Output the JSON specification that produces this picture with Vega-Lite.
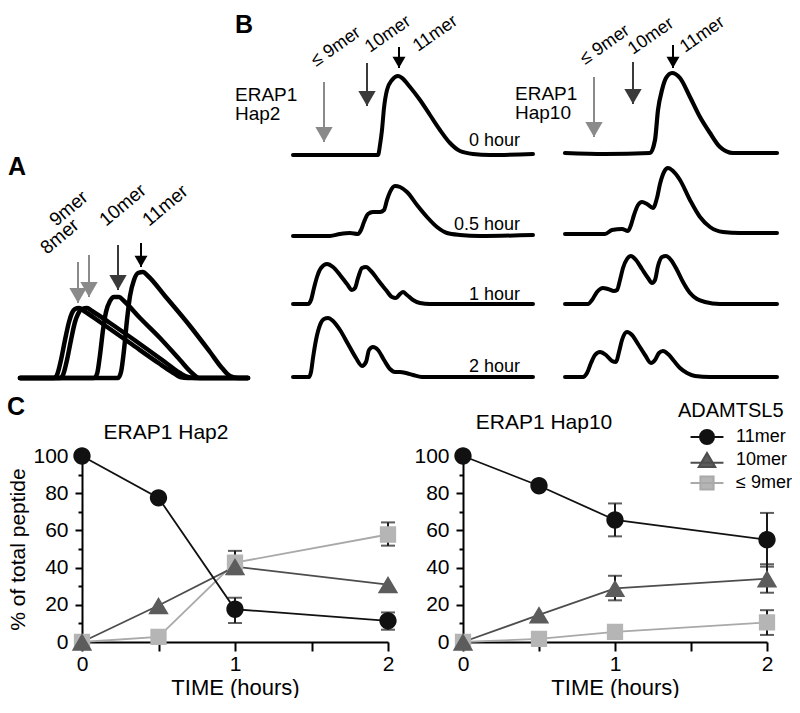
{
"$schema":"https://vega.github.io/schema/vega-lite/v6.json",
"padding":0,
"background":"white",
"columns":4,
"spacing":0,
"bounds":"flush",
"config":{
 "view":{"stroke":null},
 "font":"Liberation Sans",
 "axis":{"labelFont":"Liberation Sans","titleFont":"Liberation Sans","labelColor":"black","titleColor":"black","domainColor":"black","tickColor":"black","grid":false,"domainWidth":2,"tickWidth":2,"labelFontSize":21,"titleFontSize":21,"titleFontWeight":"normal"},
 "legend":{"titleFont":"Liberation Sans","labelFont":"Liberation Sans","titleFontSize":20,"titleFontWeight":"normal","labelFontSize":18,"titleColor":"black","labelColor":"black","symbolSize":196,"padding":0,"rowPadding":1,"titlePadding":7,"symbolOffset":20,"labelOffset":20},
 "title":{"font":"Liberation Sans","color":"black","fontWeight":"normal"}
},
"resolve":{"scale":{"color":"independent","fill":"independent","stroke":"independent","shape":"independent"}},
"concat":[
 {"width":82,"height":158,
  "data":{"values":[
   {"k":"tr","tr":"8mer","t":2.0,"s":0},{"k":"tr","tr":"8mer","t":5.4,"s":0},{"k":"tr","tr":"8mer","t":5.7,"s":3},{"k":"tr","tr":"8mer","t":6.1,"s":18},{"k":"tr","tr":"8mer","t":6.5,"s":38},{"k":"tr","tr":"8mer","t":6.9,"s":56},{"k":"tr","tr":"8mer","t":7.2,"s":65},{"k":"tr","tr":"8mer","t":7.5,"s":69},{"k":"tr","tr":"8mer","t":7.9,"s":70},{"k":"tr","tr":"8mer","t":8.4,"s":67},{"k":"tr","tr":"8mer","t":10.0,"s":56},{"k":"tr","tr":"8mer","t":13.0,"s":35},{"k":"tr","tr":"8mer","t":16.0,"s":14},{"k":"tr","tr":"8mer","t":17.2,"s":6},{"k":"tr","tr":"8mer","t":18.0,"s":1},{"k":"tr","tr":"8mer","t":18.8,"s":0},{"k":"tr","tr":"8mer","t":24.8,"s":0},
   {"k":"tr","tr":"9mer","t":2.0,"s":0},{"k":"tr","tr":"9mer","t":6.0,"s":0},{"k":"tr","tr":"9mer","t":6.3,"s":3},{"k":"tr","tr":"9mer","t":6.7,"s":18},{"k":"tr","tr":"9mer","t":7.1,"s":38},{"k":"tr","tr":"9mer","t":7.5,"s":56},{"k":"tr","tr":"9mer","t":7.8,"s":64},{"k":"tr","tr":"9mer","t":8.2,"s":69},{"k":"tr","tr":"9mer","t":8.7,"s":70},{"k":"tr","tr":"9mer","t":9.2,"s":67},{"k":"tr","tr":"9mer","t":11.0,"s":55},{"k":"tr","tr":"9mer","t":14.0,"s":34},{"k":"tr","tr":"9mer","t":16.5,"s":16},{"k":"tr","tr":"9mer","t":18.0,"s":5},{"k":"tr","tr":"9mer","t":18.8,"s":1},{"k":"tr","tr":"9mer","t":19.6,"s":0},{"k":"tr","tr":"9mer","t":24.8,"s":0},
   {"k":"tr","tr":"10mer","t":2.0,"s":0},{"k":"tr","tr":"10mer","t":9.4,"s":0},{"k":"tr","tr":"10mer","t":9.7,"s":4},{"k":"tr","tr":"10mer","t":10.0,"s":23},{"k":"tr","tr":"10mer","t":10.3,"s":48},{"k":"tr","tr":"10mer","t":10.6,"s":66},{"k":"tr","tr":"10mer","t":11.0,"s":77},{"k":"tr","tr":"10mer","t":11.4,"s":81},{"k":"tr","tr":"10mer","t":11.9,"s":81},{"k":"tr","tr":"10mer","t":12.4,"s":77},{"k":"tr","tr":"10mer","t":14.0,"s":60},{"k":"tr","tr":"10mer","t":16.0,"s":40},{"k":"tr","tr":"10mer","t":18.0,"s":18},{"k":"tr","tr":"10mer","t":19.2,"s":5},{"k":"tr","tr":"10mer","t":19.9,"s":0},{"k":"tr","tr":"10mer","t":24.8,"s":0},
   {"k":"tr","tr":"11mer","t":2.0,"s":0},{"k":"tr","tr":"11mer","t":11.8,"s":0},{"k":"tr","tr":"11mer","t":12.1,"s":6},{"k":"tr","tr":"11mer","t":12.4,"s":28},{"k":"tr","tr":"11mer","t":12.7,"s":58},{"k":"tr","tr":"11mer","t":13.0,"s":82},{"k":"tr","tr":"11mer","t":13.4,"s":98},{"k":"tr","tr":"11mer","t":13.8,"s":105},{"k":"tr","tr":"11mer","t":14.3,"s":106},{"k":"tr","tr":"11mer","t":14.8,"s":102},{"k":"tr","tr":"11mer","t":16.5,"s":82},{"k":"tr","tr":"11mer","t":19.0,"s":52},{"k":"tr","tr":"11mer","t":21.0,"s":26},{"k":"tr","tr":"11mer","t":22.2,"s":10},{"k":"tr","tr":"11mer","t":23.0,"s":2},{"k":"tr","tr":"11mer","t":23.8,"s":0},{"k":"tr","tr":"11mer","t":24.8,"s":0},
   {"k":"ar","pep":"8mer","t":7.8,"s":75,"top":116},{"k":"ar","pep":"9mer","t":8.9,"s":81,"top":123},{"k":"ar","pep":"10mer","t":11.8,"s":88,"top":133},{"k":"ar","pep":"11mer","t":14.1,"s":111,"top":135},
   {"k":"lb","lab":"8mer","t":4.7,"s":123},{"k":"lb","lab":"9mer","t":5.6,"s":151},{"k":"lb","lab":"10mer","t":10.6,"s":151},{"k":"lb","lab":"11mer","t":14.9,"s":151},
   {"k":"L","lab":"A","t":0.8,"s":203}
  ]},
  "encoding":{"x":{"field":"t","type":"quantitative","scale":{"domain":[0,8.2],"nice":false,"zero":false},"axis":null},"y":{"field":"s","type":"quantitative","scale":{"domain":[220,378],"nice":false,"zero":false},"axis":null}},
  "layer":[
   {"transform":[{"filter":"datum.k === 'tr'"}],"mark":{"type":"line","interpolate":"monotone","color":"black","strokeWidth":4.5,"strokeJoin":"round","strokeCap":"round"},"encoding":{"detail":{"field":"tr"}}},
   {"transform":[{"filter":"datum.k === 'ar'"}],"mark":{"type":"rule","strokeWidth":2},"encoding":{"y2":{"field":"top"},"color":{"field":"pep","type":"nominal","scale":{"domain":["8mer","9mer","≤ 9mer","10mer","11mer"],"range":["#8a8a8a","#8a8a8a","#8a8a8a","#3a3a3a","#000000"]},"legend":null}}},
   {"transform":[{"filter":"datum.k === 'ar' && datum.pep !== '11mer'"}],"mark":{"type":"point","shape":"triangle-down","filled":true,"opacity":1,"size":300,"yOffset":-7.5},"encoding":{"color":{"field":"pep","type":"nominal","scale":{"domain":["8mer","9mer","≤ 9mer","10mer","11mer"],"range":["#8a8a8a","#8a8a8a","#8a8a8a","#3a3a3a","#000000"]},"legend":null}}},
   {"transform":[{"filter":"datum.k === 'ar' && datum.pep === '11mer'"}],"mark":{"type":"point","shape":"triangle-down","filled":true,"opacity":1,"size":169,"yOffset":-5.6,"color":"black"}},
   {"transform":[{"filter":"datum.k === 'lb'"}],"mark":{"type":"text","angle":320,"align":"left","baseline":"alphabetic","fontSize":19,"color":"black"},"encoding":{"text":{"field":"lab"}}},
   {"transform":[{"filter":"datum.k === 'L'"}],"mark":{"type":"text","align":"left","baseline":"alphabetic","fontSize":25,"fontWeight":"bold","color":"black"},"encoding":{"text":{"field":"lab"}}}
  ]
 },
 {"width":306,"height":158,
  "data":{"values":[
   {"k":"tr","t":6.3,"s":0},{"k":"tr","t":14.5,"s":0},{"k":"tr","t":14.8,"s":0},{"k":"tr","t":15.0,"s":10},{"k":"tr","t":15.2,"s":25},{"k":"tr","t":15.4,"s":47},{"k":"tr","t":15.7,"s":65},{"k":"tr","t":16.2,"s":75},{"k":"tr","t":16.8,"s":79},{"k":"tr","t":17.2,"s":77},{"k":"tr","t":18.0,"s":68},{"k":"tr","t":19.0,"s":55},{"k":"tr","t":20.0,"s":40},{"k":"tr","t":21.0,"s":25},{"k":"tr","t":22.0,"s":12},{"k":"tr","t":23.0,"s":4},{"k":"tr","t":24.3,"s":1},{"k":"tr","t":26.0,"s":0},{"k":"tr","t":30.3,"s":1},
   {"k":"ar","pep":"≤ 9mer","t":9.4,"s":13,"top":73},{"k":"ar","pep":"10mer","t":13.7,"s":49,"top":92},{"k":"ar","pep":"11mer","t":16.9,"s":87,"top":108},
   {"k":"lb","lab":"≤ 9mer","t":8.6,"s":88},{"k":"lb","lab":"10mer","t":14.0,"s":102},{"k":"lb","lab":"11mer","t":18.8,"s":103},
   {"k":"hp","lab":"ERAP1\nHap2","t":0.5,"s":54},
   {"k":"hr","lab":"0 hour","t":29.0,"s":9},
   {"k":"L","lab":"B","t":0.5,"s":122}
  ]},
  "encoding":{"x":{"field":"t","type":"quantitative","scale":{"domain":[-14.8,15.8],"nice":false,"zero":false},"axis":null},"y":{"field":"s","type":"quantitative","scale":{"domain":[-3,155],"nice":false,"zero":false},"axis":null}},
  "layer":[
   {"transform":[{"filter":"datum.k === 'tr'"}],"mark":{"type":"line","interpolate":"monotone","color":"black","strokeWidth":4,"strokeJoin":"round","strokeCap":"round"}},
   {"transform":[{"filter":"datum.k === 'ar'"}],"mark":{"type":"rule","strokeWidth":2},"encoding":{"y2":{"field":"top"},"color":{"field":"pep","type":"nominal","scale":{"domain":["8mer","9mer","≤ 9mer","10mer","11mer"],"range":["#8a8a8a","#8a8a8a","#8a8a8a","#3a3a3a","#000000"]},"legend":null}}},
   {"transform":[{"filter":"datum.k === 'ar' && datum.pep !== '11mer'"}],"mark":{"type":"point","shape":"triangle-down","filled":true,"opacity":1,"size":300,"yOffset":-7.5},"encoding":{"color":{"field":"pep","type":"nominal","scale":{"domain":["8mer","9mer","≤ 9mer","10mer","11mer"],"range":["#8a8a8a","#8a8a8a","#8a8a8a","#3a3a3a","#000000"]},"legend":null}}},
   {"transform":[{"filter":"datum.k === 'ar' && datum.pep === '11mer'"}],"mark":{"type":"point","shape":"triangle-down","filled":true,"opacity":1,"size":169,"yOffset":-5.6,"color":"black"}},
   {"transform":[{"filter":"datum.k === 'lb'"}],"mark":{"type":"text","angle":325,"align":"left","baseline":"alphabetic","fontSize":18,"color":"black"},"encoding":{"text":{"field":"lab"}}},
   {"transform":[{"filter":"datum.k === 'hp'"}],"mark":{"type":"text","align":"left","baseline":"alphabetic","fontSize":19,"lineHeight":19,"lineBreak":"\n","color":"black"},"encoding":{"text":{"field":"lab"}}},
   {"transform":[{"filter":"datum.k === 'hr'"}],"mark":{"type":"text","align":"right","baseline":"alphabetic","fontSize":18,"color":"black"},"encoding":{"text":{"field":"lab"}}},
   {"transform":[{"filter":"datum.k === 'L'"}],"mark":{"type":"text","align":"left","baseline":"alphabetic","fontSize":25,"fontWeight":"bold","color":"black"},"encoding":{"text":{"field":"lab"}}}
  ]
 },
 {"width":1,"height":1,"data":{"values":[]},"mark":"point"},
 {"width":304,"height":158,
  "data":{"values":[
   {"k":"tr","t":2.0,"s":2},{"k":"tr","t":6.0,"s":1},{"k":"tr","t":10.5,"s":2},{"k":"tr","t":11.0,"s":15},{"k":"tr","t":11.3,"s":45},{"k":"tr","t":11.7,"s":65},{"k":"tr","t":12.1,"s":77},{"k":"tr","t":12.7,"s":82},{"k":"tr","t":13.5,"s":77},{"k":"tr","t":14.5,"s":58},{"k":"tr","t":15.5,"s":38},{"k":"tr","t":16.5,"s":22},{"k":"tr","t":17.5,"s":8},{"k":"tr","t":18.8,"s":2},{"k":"tr","t":23.2,"s":2},
   {"k":"ar","pep":"≤ 9mer","t":4.9,"s":18,"top":78},{"k":"ar","pep":"10mer","t":8.8,"s":51,"top":93},{"k":"ar","pep":"11mer","t":12.8,"s":87,"top":110},
   {"k":"lb","lab":"≤ 9mer","t":4.0,"s":90},{"k":"lb","lab":"10mer","t":8.8,"s":100},{"k":"lb","lab":"11mer","t":14.0,"s":102},
   {"k":"hp","lab":"ERAP1\nHap10","t":-3.0,"s":55}
  ]},
  "encoding":{"x":{"field":"t","type":"quantitative","scale":{"domain":[-8.2,22.2],"nice":false,"zero":false},"axis":null},"y":{"field":"s","type":"quantitative","scale":{"domain":[-3,155],"nice":false,"zero":false},"axis":null}},
  "layer":[
   {"transform":[{"filter":"datum.k === 'tr'"}],"mark":{"type":"line","interpolate":"monotone","color":"black","strokeWidth":4.2,"strokeJoin":"round","strokeCap":"round"}},
   {"transform":[{"filter":"datum.k === 'ar'"}],"mark":{"type":"rule","strokeWidth":2},"encoding":{"y2":{"field":"top"},"color":{"field":"pep","type":"nominal","scale":{"domain":["8mer","9mer","≤ 9mer","10mer","11mer"],"range":["#8a8a8a","#8a8a8a","#8a8a8a","#3a3a3a","#000000"]},"legend":null}}},
   {"transform":[{"filter":"datum.k === 'ar' && datum.pep !== '11mer'"}],"mark":{"type":"point","shape":"triangle-down","filled":true,"opacity":1,"size":300,"yOffset":-7.5},"encoding":{"color":{"field":"pep","type":"nominal","scale":{"domain":["8mer","9mer","≤ 9mer","10mer","11mer"],"range":["#8a8a8a","#8a8a8a","#8a8a8a","#3a3a3a","#000000"]},"legend":null}}},
   {"transform":[{"filter":"datum.k === 'ar' && datum.pep === '11mer'"}],"mark":{"type":"point","shape":"triangle-down","filled":true,"opacity":1,"size":169,"yOffset":-5.6,"color":"black"}},
   {"transform":[{"filter":"datum.k === 'lb'"}],"mark":{"type":"text","angle":325,"align":"left","baseline":"alphabetic","fontSize":18,"color":"black"},"encoding":{"text":{"field":"lab"}}},
   {"transform":[{"filter":"datum.k === 'hp'"}],"mark":{"type":"text","align":"left","baseline":"alphabetic","fontSize":19,"lineHeight":19,"lineBreak":"\n","color":"black"},"encoding":{"text":{"field":"lab"}}}
  ]
 },
 {"width":1,"height":1,"data":{"values":[]},"mark":"point"},
 {"width":306,"height":82,
  "data":{"values":[
   {"k":"tr","t":6.3,"s":-1},{"k":"tr","t":10.0,"s":-1},{"k":"tr","t":11.0,"s":1},{"k":"tr","t":12.0,"s":2},{"k":"tr","t":12.8,"s":1},{"k":"tr","t":13.1,"s":5},{"k":"tr","t":13.4,"s":13},{"k":"tr","t":13.8,"s":21},{"k":"tr","t":14.3,"s":23},{"k":"tr","t":15.0,"s":23},{"k":"tr","t":15.4,"s":25},{"k":"tr","t":15.7,"s":35},{"k":"tr","t":16.0,"s":43},{"k":"tr","t":16.5,"s":49},{"k":"tr","t":17.0,"s":48},{"k":"tr","t":17.7,"s":43},{"k":"tr","t":18.7,"s":30},{"k":"tr","t":19.7,"s":18},{"k":"tr","t":20.7,"s":8},{"k":"tr","t":21.7,"s":2},{"k":"tr","t":23.0,"s":0},{"k":"tr","t":25.0,"s":-1},{"k":"tr","t":30.3,"s":0},
   {"k":"hr","lab":"0.5 hour","t":29.0,"s":5}
  ]},
  "encoding":{"x":{"field":"t","type":"quantitative","scale":{"domain":[-14.8,15.8],"nice":false,"zero":false},"axis":null},"y":{"field":"s","type":"quantitative","scale":{"domain":[-5,77],"nice":false,"zero":false},"axis":null}},
  "layer":[
   {"transform":[{"filter":"datum.k === 'tr'"}],"mark":{"type":"line","interpolate":"monotone","color":"black","strokeWidth":4,"strokeJoin":"round","strokeCap":"round"}},
   {"transform":[{"filter":"datum.k === 'hr'"}],"mark":{"type":"text","align":"right","baseline":"alphabetic","fontSize":18,"color":"black"},"encoding":{"text":{"field":"lab"}}}
  ]
 },
 {"width":1,"height":1,"data":{"values":[]},"mark":"point"},
 {"width":304,"height":82,
  "data":{"values":[
   {"t":2.0,"s":1},{"t":6.0,"s":1},{"t":6.7,"s":5},{"t":7.7,"s":6},{"t":8.3,"s":4},{"t":8.6,"s":10},{"t":8.9,"s":20},{"t":9.3,"s":30},{"t":9.7,"s":33},{"t":10.2,"s":31},{"t":10.8,"s":27},{"t":11.2,"s":37},{"t":11.5,"s":51},{"t":11.9,"s":63},{"t":12.3,"s":67},{"t":12.8,"s":64},{"t":13.5,"s":55},{"t":14.5,"s":35},{"t":15.5,"s":18},{"t":16.5,"s":8},{"t":17.8,"s":3},{"t":19.5,"s":2},{"t":23.2,"s":2}
  ]},
  "mark":{"type":"line","interpolate":"monotone","color":"black","strokeWidth":4,"strokeJoin":"round","strokeCap":"round"},
  "encoding":{"x":{"field":"t","type":"quantitative","scale":{"domain":[-8.2,22.2],"nice":false,"zero":false},"axis":null},"y":{"field":"s","type":"quantitative","scale":{"domain":[-5,77],"nice":false,"zero":false},"axis":null}}
 },
 {"width":1,"height":1,"data":{"values":[]},"mark":"point"},
 {"width":306,"height":68,
  "data":{"values":[
   {"k":"tr","t":6.3,"s":0},{"k":"tr","t":7.8,"s":0},{"k":"tr","t":8.1,"s":4},{"k":"tr","t":8.4,"s":16},{"k":"tr","t":8.7,"s":27},{"k":"tr","t":9.1,"s":36},{"k":"tr","t":9.7,"s":40},{"k":"tr","t":10.3,"s":37},{"k":"tr","t":11.0,"s":29},{"k":"tr","t":11.7,"s":20},{"k":"tr","t":12.2,"s":14},{"k":"tr","t":12.5,"s":16},{"k":"tr","t":12.8,"s":26},{"k":"tr","t":13.2,"s":36},{"k":"tr","t":13.6,"s":37},{"k":"tr","t":14.1,"s":33},{"k":"tr","t":14.8,"s":24},{"k":"tr","t":15.6,"s":14},{"k":"tr","t":16.2,"s":7},{"k":"tr","t":16.6,"s":6},{"k":"tr","t":17.0,"s":10},{"k":"tr","t":17.3,"s":12},{"k":"tr","t":17.7,"s":9},{"k":"tr","t":18.3,"s":4},{"k":"tr","t":19.0,"s":1},{"k":"tr","t":20.0,"s":0},{"k":"tr","t":30.3,"s":0},
   {"k":"hr","lab":"1 hour","t":29.0,"s":4}
  ]},
  "encoding":{"x":{"field":"t","type":"quantitative","scale":{"domain":[-14.8,15.8],"nice":false,"zero":false},"axis":null},"y":{"field":"s","type":"quantitative","scale":{"domain":[-4,64],"nice":false,"zero":false},"axis":null}},
  "layer":[
   {"transform":[{"filter":"datum.k === 'tr'"}],"mark":{"type":"line","interpolate":"monotone","color":"black","strokeWidth":4,"strokeJoin":"round","strokeCap":"round"}},
   {"transform":[{"filter":"datum.k === 'hr'"}],"mark":{"type":"text","align":"right","baseline":"alphabetic","fontSize":18,"color":"black"},"encoding":{"text":{"field":"lab"}}}
  ]
 },
 {"width":1,"height":1,"data":{"values":[]},"mark":"point"},
 {"width":304,"height":68,
  "data":{"values":[
   {"t":2.0,"s":0},{"t":4.3,"s":0},{"t":4.7,"s":4},{"t":5.2,"s":12},{"t":5.8,"s":16},{"t":6.3,"s":15},{"t":6.9,"s":13},{"t":7.2,"s":14},{"t":7.5,"s":24},{"t":7.8,"s":36},{"t":8.2,"s":45},{"t":8.6,"s":48},{"t":9.1,"s":44},{"t":9.7,"s":35},{"t":10.3,"s":26},{"t":10.7,"s":21},{"t":11.0,"s":24},{"t":11.3,"s":38},{"t":11.7,"s":47},{"t":12.1,"s":48},{"t":12.6,"s":44},{"t":13.2,"s":34},{"t":13.8,"s":22},{"t":14.5,"s":11},{"t":15.2,"s":5},{"t":16.0,"s":2},{"t":17.5,"s":0},{"t":23.2,"s":0}
  ]},
  "mark":{"type":"line","interpolate":"monotone","color":"black","strokeWidth":4,"strokeJoin":"round","strokeCap":"round"},
  "encoding":{"x":{"field":"t","type":"quantitative","scale":{"domain":[-8.2,22.2],"nice":false,"zero":false},"axis":null},"y":{"field":"s","type":"quantitative","scale":{"domain":[-4,64],"nice":false,"zero":false},"axis":null}}
 },
 {"width":1,"height":1,"data":{"values":[]},"mark":"point"},
 {"width":306,"height":73,
  "data":{"values":[
   {"k":"tr","t":6.3,"s":0},{"k":"tr","t":7.9,"s":0},{"k":"tr","t":8.1,"s":5},{"k":"tr","t":8.3,"s":19},{"k":"tr","t":8.6,"s":37},{"k":"tr","t":9.0,"s":52},{"k":"tr","t":9.4,"s":58},{"k":"tr","t":9.8,"s":59},{"k":"tr","t":10.3,"s":56},{"k":"tr","t":11.0,"s":47},{"k":"tr","t":11.8,"s":33},{"k":"tr","t":12.6,"s":19},{"k":"tr","t":13.2,"s":11},{"k":"tr","t":13.6,"s":15},{"k":"tr","t":13.9,"s":27},{"k":"tr","t":14.3,"s":30},{"k":"tr","t":14.8,"s":27},{"k":"tr","t":15.4,"s":17},{"k":"tr","t":16.0,"s":8},{"k":"tr","t":16.5,"s":5},{"k":"tr","t":17.0,"s":5},{"k":"tr","t":17.6,"s":4},{"k":"tr","t":18.3,"s":2},{"k":"tr","t":19.2,"s":0},{"k":"tr","t":30.3,"s":0},
   {"k":"hr","lab":"2 hour","t":29.0,"s":5}
  ]},
  "encoding":{"x":{"field":"t","type":"quantitative","scale":{"domain":[-14.8,15.8],"nice":false,"zero":false},"axis":null},"y":{"field":"s","type":"quantitative","scale":{"domain":[-4,69],"nice":false,"zero":false},"axis":null}},
  "layer":[
   {"transform":[{"filter":"datum.k === 'tr'"}],"mark":{"type":"line","interpolate":"monotone","color":"black","strokeWidth":4,"strokeJoin":"round","strokeCap":"round"}},
   {"transform":[{"filter":"datum.k === 'hr'"}],"mark":{"type":"text","align":"right","baseline":"alphabetic","fontSize":18,"color":"black"},"encoding":{"text":{"field":"lab"}}}
  ]
 },
 {"width":1,"height":1,"data":{"values":[]},"mark":"point"},
 {"width":304,"height":73,
  "data":{"values":[
   {"t":2.0,"s":0},{"t":3.8,"s":0},{"t":4.2,"s":4},{"t":4.6,"s":14},{"t":5.0,"s":22},{"t":5.5,"s":25},{"t":6.1,"s":22},{"t":6.7,"s":16},{"t":7.1,"s":15},{"t":7.4,"s":25},{"t":7.7,"s":37},{"t":8.2,"s":45},{"t":8.7,"s":42},{"t":9.3,"s":33},{"t":10.0,"s":22},{"t":10.6,"s":14},{"t":11.0,"s":17},{"t":11.4,"s":24},{"t":11.8,"s":26},{"t":12.3,"s":23},{"t":12.9,"s":16},{"t":13.5,"s":9},{"t":14.2,"s":4},{"t":15.0,"s":1},{"t":16.5,"s":0},{"t":23.2,"s":0}
  ]},
  "mark":{"type":"line","interpolate":"monotone","color":"black","strokeWidth":4,"strokeJoin":"round","strokeCap":"round"},
  "encoding":{"x":{"field":"t","type":"quantitative","scale":{"domain":[-8.2,22.2],"nice":false,"zero":false},"axis":null},"y":{"field":"s","type":"quantitative","scale":{"domain":[-4,69],"nice":false,"zero":false},"axis":null}}
 },
 {"width":1,"height":75,"data":{"values":[]},"mark":"point"},
 {"width":1,"height":1,"data":{"values":[]},"mark":"point"},
 {"width":1,"height":1,"data":{"values":[]},"mark":"point"},
 {"width":1,"height":1,"data":{"values":[]},"mark":"point"},
 {"width":82,"height":186,"title":{"text":"C","anchor":"start","frame":"group","fontSize":25,"fontWeight":"bold","offset":36,"dx":7},"data":{"values":[]},"mark":"point"},
 {"width":306,"height":186,
  "title":{"text":"ERAP1 Hap2","anchor":"middle","frame":"group","dx":-69,"offset":2,"fontSize":21,"fontWeight":"normal"},
  "data":{"values":[
   {"series":"≤ 9mer","time":0,"v":0},{"series":"≤ 9mer","time":0.5,"v":2.7},{"series":"≤ 9mer","time":1,"v":42.7,"lo":36.5,"hi":49},{"series":"≤ 9mer","time":2,"v":57.8,"lo":51.8,"hi":64.3},
   {"series":"10mer","time":0,"v":0},{"series":"10mer","time":0.5,"v":19.6},{"series":"10mer","time":1,"v":40.5},{"series":"10mer","time":2,"v":30.8},
   {"series":"11mer","time":0,"v":100},{"series":"11mer","time":0.5,"v":77.5},{"series":"11mer","time":1,"v":17.6,"lo":10.2,"hi":23.8},{"series":"11mer","time":2,"v":11.4,"lo":6.6,"hi":15.9}
  ]},
  "encoding":{"x":{"field":"time","type":"quantitative","title":"TIME (hours)","scale":{"domain":[0,2],"nice":false,"zero":false},"axis":{"values":[0,0.5,1,1.5,2],"labelExpr":"datum.value % 1 === 0 ? format(datum.value, 'd') : ''","tickSize":9,"labelPadding":2,"titlePadding":3,"titleFontSize":22,"labelFlush":false,"labelOverlap":false}}},
  "layer":[
   {"transform":[{"filter":"isValid(datum.lo)"}],"mark":{"type":"errorbar","color":"#1a1a1a","ticks":{"size":14,"thickness":2},"rule":{"strokeWidth":2}},
    "encoding":{"y":{"field":"lo","type":"quantitative","title":"% of total peptide","scale":{"domain":[0,100],"nice":false,"zero":false},"axis":{"values":[0,10,20,30,40,50,60,70,80,90,100],"labelExpr":"datum.value % 20 === 0 ? datum.label : ''","tickSize":{"condition":{"test":"datum.value % 20 === 0","value":7},"value":4},"labelPadding":7,"titlePadding":4,"labelOverlap":false,"labelFlush":false}},"y2":{"field":"hi"}}},
   {"mark":{"type":"line","strokeWidth":1.8},
    "encoding":{"y":{"field":"v","type":"quantitative","title":"% of total peptide","scale":{"domain":[0,100],"nice":false,"zero":false},"axis":{"values":[0,10,20,30,40,50,60,70,80,90,100],"labelExpr":"datum.value % 20 === 0 ? datum.label : ''","tickSize":{"condition":{"test":"datum.value % 20 === 0","value":7},"value":4},"labelPadding":7,"titlePadding":4,"labelOverlap":false,"labelFlush":false}},
     "stroke":{"field":"series","type":"nominal","scale":{"domain":["11mer","10mer","≤ 9mer"],"range":["#111111","#4d4d4d","#a9a9a9"]},"legend":null}}},
   {"mark":{"type":"point","filled":true,"size":300,"opacity":1,"strokeWidth":0},
    "encoding":{"y":{"field":"v","type":"quantitative","title":"% of total peptide","scale":{"domain":[0,100],"nice":false,"zero":false},"axis":{"values":[0,10,20,30,40,50,60,70,80,90,100],"labelExpr":"datum.value % 20 === 0 ? datum.label : ''","tickSize":{"condition":{"test":"datum.value % 20 === 0","value":7},"value":4},"labelPadding":7,"titlePadding":4,"labelOverlap":false,"labelFlush":false}},
     "fill":{"field":"series","type":"nominal","scale":{"domain":["11mer","10mer","≤ 9mer"],"range":["#111111","#5c5c5c","#b5b5b5"]},"legend":null},
     "shape":{"field":"series","type":"nominal","scale":{"domain":["11mer","10mer","≤ 9mer"],"range":["M-2.35,0L2.35,0M1,0A1,1,0,1,1,-1,0A1,1,0,1,1,1,0Z","M-2.35,0.4L2.35,0.4M0,-1L1.18,1L-1.18,1Z","M-2.35,0L2.35,0M-0.94,-0.94L0.94,-0.94L0.94,0.94L-0.94,0.94Z"]},"legend":null}}}
  ]
 },
 {"width":75,"height":186,"data":{"values":[]},"mark":"point"},
 {"width":304,"height":186,
  "title":{"text":"ERAP1 Hap10","anchor":"middle","frame":"group","dx":-71,"offset":-32,"fontSize":21,"fontWeight":"normal"},
  "data":{"values":[
   {"series":"≤ 9mer","time":0,"v":0},{"series":"≤ 9mer","time":0.5,"v":1.7},{"series":"≤ 9mer","time":1,"v":5.4},{"series":"≤ 9mer","time":2,"v":10.5,"lo":3.8,"hi":17.1},
   {"series":"10mer","time":0,"v":0},{"series":"10mer","time":0.5,"v":14.6},{"series":"10mer","time":1,"v":28.8,"lo":22.4,"hi":35.6},{"series":"10mer","time":2,"v":34,"lo":26.5,"hi":41.8},
   {"series":"11mer","time":0,"v":100},{"series":"11mer","time":0.5,"v":84},{"series":"11mer","time":1,"v":65.6,"lo":56.8,"hi":74.5},{"series":"11mer","time":2,"v":55,"lo":40.5,"hi":69.4}
  ]},
  "encoding":{"x":{"field":"time","type":"quantitative","title":"TIME (hours)","scale":{"domain":[0,2],"nice":false,"zero":false},"axis":{"values":[0,0.5,1,1.5,2],"labelExpr":"datum.value % 1 === 0 ? format(datum.value, 'd') : ''","tickSize":9,"labelPadding":2,"titlePadding":3,"titleFontSize":22,"labelFlush":false,"labelOverlap":false}}},
  "layer":[
   {"transform":[{"filter":"isValid(datum.lo)"}],"mark":{"type":"errorbar","color":"#1a1a1a","ticks":{"size":14,"thickness":2},"rule":{"strokeWidth":2}},
    "encoding":{"y":{"field":"lo","type":"quantitative","title":null,"scale":{"domain":[0,100],"nice":false,"zero":false},"axis":{"values":[0,10,20,30,40,50,60,70,80,90,100],"labelExpr":"datum.value % 20 === 0 ? datum.label : ''","tickSize":{"condition":{"test":"datum.value % 20 === 0","value":7},"value":4},"labelPadding":7,"labelOverlap":false,"labelFlush":false,"title":null}},"y2":{"field":"hi"}}},
   {"mark":{"type":"line","strokeWidth":1.8},
    "encoding":{"y":{"field":"v","type":"quantitative","title":null,"scale":{"domain":[0,100],"nice":false,"zero":false},"axis":{"values":[0,10,20,30,40,50,60,70,80,90,100],"labelExpr":"datum.value % 20 === 0 ? datum.label : ''","tickSize":{"condition":{"test":"datum.value % 20 === 0","value":7},"value":4},"labelPadding":7,"labelOverlap":false,"labelFlush":false,"title":null}},
     "stroke":{"field":"series","type":"nominal","scale":{"domain":["11mer","10mer","≤ 9mer"],"range":["#111111","#4d4d4d","#a9a9a9"]},"legend":{"title":"ADAMTSL5","orient":"none","legendX":215,"legendY":-55,"encode":{"symbols":{"update":{"strokeWidth":{"value":2}}}}}}}},
   {"mark":{"type":"point","filled":true,"size":300,"opacity":1,"strokeWidth":0},
    "encoding":{"y":{"field":"v","type":"quantitative","title":null,"scale":{"domain":[0,100],"nice":false,"zero":false},"axis":{"values":[0,10,20,30,40,50,60,70,80,90,100],"labelExpr":"datum.value % 20 === 0 ? datum.label : ''","tickSize":{"condition":{"test":"datum.value % 20 === 0","value":7},"value":4},"labelPadding":7,"labelOverlap":false,"labelFlush":false,"title":null}},
     "fill":{"field":"series","type":"nominal","scale":{"domain":["11mer","10mer","≤ 9mer"],"range":["#111111","#5c5c5c","#b5b5b5"]},"legend":{"title":"ADAMTSL5","orient":"none","legendX":215,"legendY":-55,"encode":{"symbols":{"update":{"strokeWidth":{"value":2}}}}}},
     "shape":{"field":"series","type":"nominal","scale":{"domain":["11mer","10mer","≤ 9mer"],"range":["M-2.35,0L2.35,0M1,0A1,1,0,1,1,-1,0A1,1,0,1,1,1,0Z","M-2.35,0.4L2.35,0.4M0,-1L1.18,1L-1.18,1Z","M-2.35,0L2.35,0M-0.94,-0.94L0.94,-0.94L0.94,0.94L-0.94,0.94Z"]},"legend":{"title":"ADAMTSL5","orient":"none","legendX":215,"legendY":-55,"encode":{"symbols":{"update":{"strokeWidth":{"value":2}}}}}}}}
  ]
 }
]
}
